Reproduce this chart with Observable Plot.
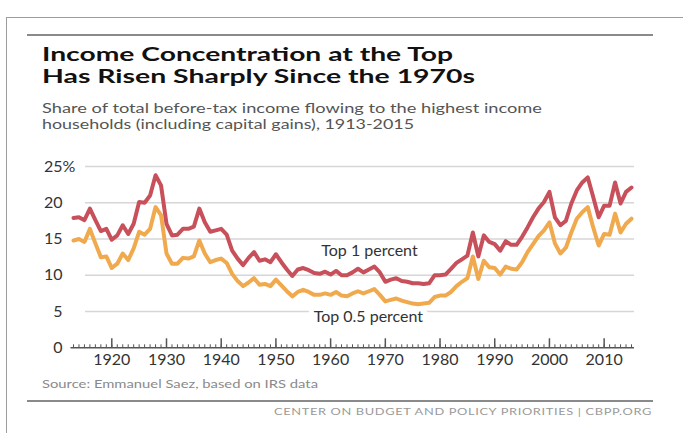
<!DOCTYPE html>
<html>
<head>
<meta charset="utf-8">
<script src="https://cdn.jsdelivr.net/npm/d3@7"></script>
<script src="https://cdn.jsdelivr.net/npm/@observablehq/plot@0.6"></script>
<style>
  html, body { margin: 0; padding: 0; background: #fff; }
  #page { position: relative; width: 683px; height: 433px; overflow: hidden; font-family: Lato, "Open Sans", sans-serif; }
  .frame { position: absolute; left: 6px; top: 17px; width: 700px; height: 440px; border-top: 1.5px solid #9d9d9d; border-left: 1.5px solid #9d9d9d; }
  .rule { position: absolute; left: 27px; width: 626px; height: 0; border-top: 2px solid #8a8a8a; }
  .line { position: absolute; white-space: nowrap; transform-origin: 0 0; }
  .title { font-weight: 700; font-size: 18px; line-height: 21.6px; color: #111; left: 42px; }
  .sub { font-size: 14px; line-height: 16px; color: #555; left: 42px; }
  .src { font-size: 11px; line-height: 13.2px; color: #8a8a8a; left: 42px; }
  .foot { font-size: 10px; line-height: 12px; color: #9a9a9a; left: 274px; letter-spacing: 0.5px; }
  #chart { position: absolute; left: 0; top: 150px; }
</style>
</head>
<body>
<div id="page">
  <div class="frame"></div>
  <div class="rule" style="top:34px"></div>
  <div class="line title" style="top:44px" data-w="411">Income Concentration at the Top</div>
  <div class="line title" style="top:65.6px" data-w="433">Has Risen Sharply Since the 1970s</div>
  <div class="line sub" style="top:100px" data-w="500">Share of total before-tax income flowing to the highest income</div>
  <div class="line sub" style="top:116px" data-w="372">households (including capital gains), 1913-2015</div>
  <div id="chart"></div>
  <div class="line src" style="top:377px" data-w="276">Source: Emmanuel Saez, based on IRS data</div>
  <div class="rule" style="top:400px"></div>
  <div class="line foot" style="top:405px" data-w="378">CENTER ON BUDGET AND POLICY PRIORITIES | CBPP.ORG</div>
</div>
<script>
const years = d3.range(1913, 2016);
const top1 = [
  17.9, 18.0, 17.6, 19.2, 17.6, 16.1, 16.4, 14.9, 15.5, 16.9,
  15.7, 17.1, 20.1, 20.0, 21.0, 23.8, 22.4, 17.1, 15.5, 15.6,
  16.4, 16.4, 16.7, 19.2, 17.3, 16.0, 16.2, 16.4, 15.6, 13.4,
  12.3, 11.4, 12.4, 13.2, 12.0, 12.2, 11.8, 12.9, 11.8, 10.8,
  9.9, 10.8, 11.0, 10.7, 10.3, 10.2, 10.5, 10.1, 10.6, 10.0,
  10.0, 10.4, 10.9, 10.4, 10.8, 11.2, 10.4, 9.1, 9.4, 9.6,
  9.2, 9.1, 8.9, 8.9, 8.8, 8.9, 10.0, 10.0, 10.1, 10.9,
  11.7, 12.2, 12.7, 15.9, 12.6, 15.5, 14.6, 14.3, 13.4, 14.7,
  14.2, 14.2, 15.3, 16.6, 18.0, 19.2, 20.1, 21.5, 18.0, 16.9,
  17.5, 19.9, 21.7, 22.8, 23.5, 20.8, 18.0, 19.6, 19.6, 22.8,
  19.9, 21.5, 22.1
];
const top05 = [
  14.8, 15.0, 14.6, 16.4, 14.4, 12.5, 12.6, 11.0, 11.6, 13.0,
  12.1, 13.7, 16.0, 15.6, 16.4, 19.4, 18.3, 13.0, 11.6, 11.6,
  12.4, 12.3, 12.6, 14.8, 13.0, 11.8, 12.1, 12.3, 11.7, 10.2,
  9.2, 8.5, 9.0, 9.6, 8.7, 8.8, 8.5, 9.4, 8.6, 7.8,
  7.1, 7.7, 8.0, 7.7, 7.3, 7.3, 7.5, 7.3, 7.7, 7.2,
  7.1, 7.5, 7.8, 7.5, 7.8, 8.1, 7.3, 6.4, 6.6, 6.8,
  6.5, 6.3, 6.1, 6.0, 6.1, 6.2, 7.0, 7.2, 7.2, 7.7,
  8.5, 9.1, 9.6, 12.6, 9.5, 12.0, 11.1, 11.0, 10.1, 11.2,
  10.9, 10.8, 11.8, 13.2, 14.3, 15.4, 16.2, 17.3, 14.4, 13.0,
  13.8, 15.9, 17.8, 18.7, 19.4, 16.6, 14.1, 15.7, 15.6, 18.5,
  15.9, 17.1, 17.8
];
const yTicks = [0, 5, 10, 15, 20, 25];
const xMajor = [1920, 1930, 1940, 1950, 1960, 1970, 1980, 1990, 2000, 2010];
const seriesLabels = [
  {text: "Top 1 percent", year: 1967.1, value: 13.3},
  {text: "Top 0.5 percent", year: 1966.9, value: 4.3}
];
const red = "#c8505b";
const orange = "#f0a94d";

const d1 = years.map((y, i) => ({year: y, value: top1[i]}));
const d05 = years.map((y, i) => ({year: y, value: top05[i]}));

const plot = Plot.plot({
  width: 683,
  height: 230,
  marginLeft: 73,
  marginRight: 52,
  marginTop: 16,
  marginBottom: 32.7,
  x: {domain: [1913, 2015]},
  y: {domain: [0, 25]},
  style: {fontFamily: "Lato, sans-serif", fontSize: "16px", color: "#333", background: "transparent"},
  marks: [
    Plot.ruleY(yTicks.filter(d => d > 0), {y: d => d, stroke: "#d6d6d6", strokeWidth: 1.5, insetLeft: 12, insetRight: -3}),
    Plot.axisY(yTicks, {tickSize: 0, tickPadding: 11, fontSize: 16, fill: "#333", label: null}),
    Plot.text([25], {y: d => d, x: () => 1913, text: () => "%", textAnchor: "start", dx: -11, fontSize: 16, fill: "#333"}),
    Plot.axisX(years, {tickSize: -3, text: null, stroke: "#555", strokeWidth: 1, label: null}),
    Plot.axisX(xMajor, {tickSize: -9, text: null, stroke: "#555", strokeWidth: 1.5, label: null}),
    Plot.axisX(xMajor, {tickSize: 0, tickPadding: 6, tickFormat: d => String(d), fontSize: 16, fill: "#333", label: null}),
    Plot.ruleY([0], {y: d => d, stroke: "#555", strokeWidth: 1.5, insetLeft: -2.5, insetRight: -3}),
    Plot.line(d05, {x: "year", y: "value", stroke: orange, strokeWidth: 4}),
    Plot.line(d1, {x: "year", y: "value", stroke: red, strokeWidth: 4}),
    Plot.text(seriesLabels, {x: "year", y: "value", text: "text", fontSize: 16, fill: "#333", stroke: "white", strokeWidth: 10, textAnchor: "middle"})
  ]
});
document.getElementById("chart").appendChild(plot);

function fit() {
  document.querySelectorAll(".line[data-w]").forEach(el => {
    el.style.transform = "none";
    const w = el.getBoundingClientRect().width;
    const target = +el.dataset.w;
    if (w > 0) el.style.transform = `scaleX(${target / w})`;
  });
}
fit();
if (document.fonts && document.fonts.ready) document.fonts.ready.then(fit);
</script>
</body>
</html>
